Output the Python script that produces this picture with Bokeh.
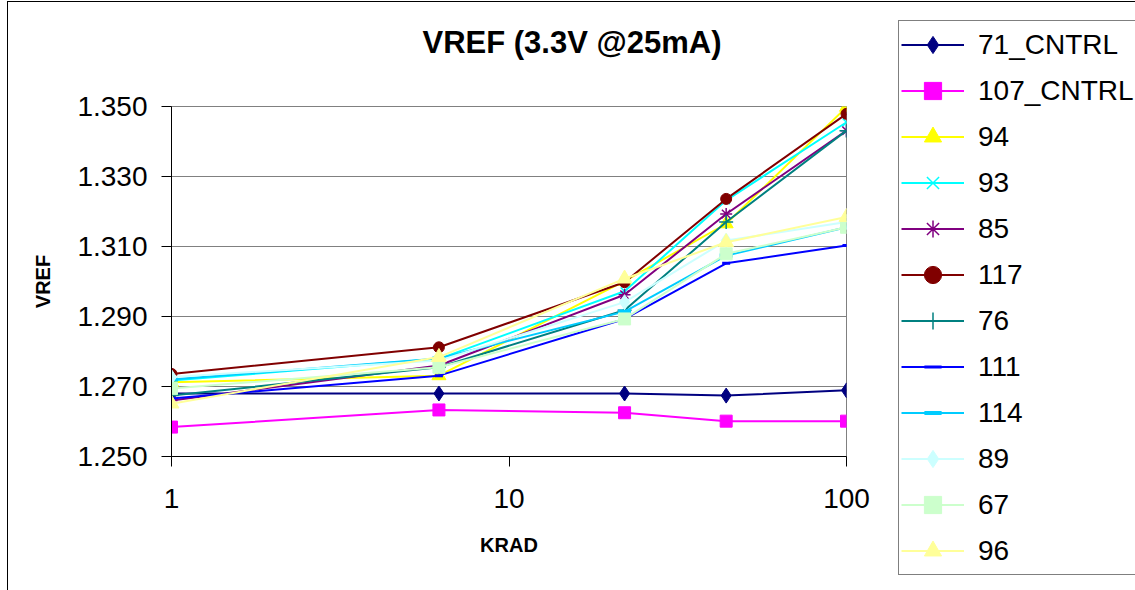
from bokeh.plotting import figure
from bokeh.models import (FixedTicker, PrintfTickFormatter, Legend, LegendItem,
                          Title, Range1d)
from bokeh.embed import file_html
from bokeh.resources import INLINE

# ---- data ----
krad = [1, 6.2, 22, 44, 100]
series_names = ["71_CNTRL", "107_CNTRL", "94", "93", "85", "117",
                "76", "111", "114", "89", "67", "96"]
v71_cntrl = [1.2680, 1.2680, 1.2680, 1.2674, 1.2689]
v107_cntrl = [1.2584, 1.2633, 1.2625, 1.2601, 1.2601]
v94 = [1.2712, 1.2731, 1.3001, 1.3165, 1.3498]
v93 = [1.2717, 1.2779, 1.2972, 1.3232, 1.3455]
v85 = [1.2660, 1.2760, 1.2962, 1.3193, 1.3431]
v117 = [1.2736, 1.2812, 1.2998, 1.3236, 1.3479]
v76 = [1.2674, 1.2755, 1.2918, 1.3170, 1.3431]
v111 = [1.2666, 1.2731, 1.2893, 1.3052, 1.3103]
v114 = [1.2720, 1.2780, 1.2914, 1.3074, 1.3155]
v89 = [1.2727, 1.2774, 1.2941, 1.3117, 1.3170]
v67 = [1.2694, 1.2755, 1.2893, 1.3079, 1.3155]
v96 = [1.2651, 1.2784, 1.3008, 1.3112, 1.3184]
values = [v71_cntrl, v107_cntrl, v94, v93, v85, v117, v76, v111, v114, v89, v67, v96]
y_ticks = [1.25, 1.27, 1.29, 1.31, 1.33, 1.35]
x_ticks = [1, 10, 100]

# ---- styles ----
colors = ["#000080", "#FF00FF", "#FFFF00", "#00FFFF", "#800080", "#800000",
          "#008080", "#0000FF", "#00CCFF", "#CCFFFF", "#CCFFCC", "#FFFF99"]
markers = ["diamond", "square", "triangle", "x", "asterisk", "circle",
           "cross", "dash", "dash", "diamond", "square", "triangle"]
sizes = [15, 12, 14, 11, 12, 11, 14, 8, 13, 15, 12, 15]
mlw = [1, 1, 1, 1.5, 1.5, 1, 1.5, 3, 4, 1, 1, 1]
filled = [True, True, True, False, False, True, False, False, False, True, True, True]

FONT = "Liberation Sans"

p = figure(x_axis_type="log", output_backend="svg", toolbar_location=None,
           frame_width=675, frame_height=350,
           min_border_left=163, min_border_right=289,
           min_border_top=104, min_border_bottom=134,
           x_range=Range1d(1, 100), y_range=Range1d(1.25, 1.35))
p.styles = {"margin-left": "7px", "margin-top": "1px",
            "border-left": "1px solid #000000", "border-top": "1px solid #000000"}
p.background_fill_color = "white"
p.border_fill_color = "white"
p.outline_line_color = "#808080"
p.outline_line_width = 1

items = []
for name, vals, c, m, s, lw, f in zip(series_names, values, colors, markers,
                                       sizes, mlw, filled):
    r1 = p.line(krad, vals, line_color=c, line_width=2)
    r2 = p.scatter(krad, vals, marker=m, size=s,
                   line_color=c, fill_color=c if f else None, line_width=lw)
    items.append(LegendItem(label=name, renderers=[r1, r2]))

# axes
p.xaxis.ticker = FixedTicker(ticks=x_ticks, minor_ticks=[])
p.xaxis.formatter = PrintfTickFormatter(format="%d")
p.yaxis.ticker = FixedTicker(ticks=y_ticks, minor_ticks=[])
p.yaxis.formatter = PrintfTickFormatter(format="%.3f")
for ax in (p.xaxis[0], p.yaxis[0]):
    ax.axis_line_color = "#000000"
    ax.axis_line_width = 1
    ax.major_tick_line_color = "#000000"
    ax.major_tick_out = 10
    ax.major_tick_in = 0
    ax.minor_tick_line_color = None
    ax.major_label_text_font = FONT
    ax.major_label_text_font_size = "28px"
    ax.major_label_text_color = "#000000"
    ax.axis_label_text_font = FONT
    ax.axis_label_text_font_size = "20px"
    ax.axis_label_text_font_style = "bold"
    ax.axis_label_text_color = "#000000"
p.xaxis.axis_label = "KRAD"
p.yaxis.axis_label = "VREF"
p.xaxis.major_label_standoff = 22
p.yaxis.major_label_standoff = 14
p.xaxis.axis_label_standoff = 23
p.yaxis.axis_label_standoff = 20

p.xgrid.grid_line_color = None
p.ygrid.grid_line_color = "#808080"
p.ygrid.grid_line_width = 1

# title (outermost) and an empty spacer title nearest the frame
p.title.text = "VREF (3.3V @25mA)"
p.title.text_font = FONT
p.title.text_font_size = "31px"
p.title.text_font_style = "bold"
p.title.align = "left"
p.title.offset = 251
p.title.text_color = "#000000"
spacer = Title(text=" ", text_font_size="26px")
p.add_layout(spacer, "above")

legend = Legend(items=items, location=(52, -119),
                label_text_font=FONT, label_text_font_size="28px",
                label_text_color="#000000",
                label_height=43, glyph_height=43, glyph_width=63,
                label_standoff=14, spacing=3, padding=2, margin=0,
                border_line_color="#000000", border_line_width=1,
                background_fill_color="white", background_fill_alpha=1.0)
p.add_layout(legend, "right")

open("out.html", "w").write(file_html(p, INLINE))
